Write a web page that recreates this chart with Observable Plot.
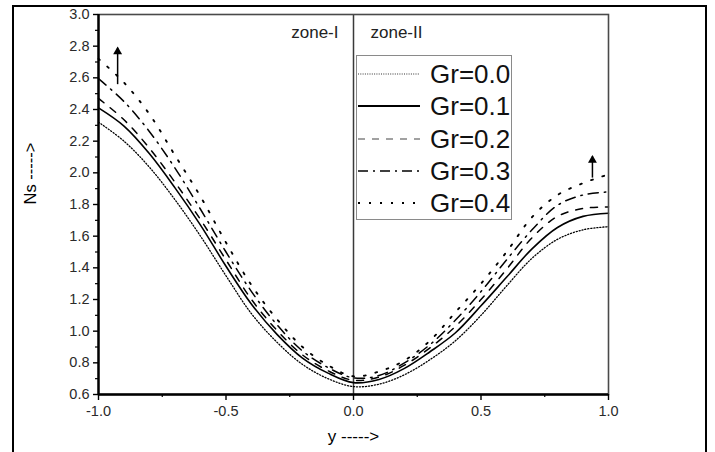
<!DOCTYPE html>
<html>
<head>
<meta charset="utf-8">
<script src="https://cdn.jsdelivr.net/npm/d3@7"></script>
<script src="https://cdn.jsdelivr.net/npm/@observablehq/plot@0.6"></script>
<style>
  html, body { margin: 0; padding: 0; overflow: hidden; background: #fff; }
  #wrap { position: relative; width: 715px; height: 452px; font-family: Arial, "Liberation Sans", sans-serif; }
  #border { position: absolute; left: 12px; top: 5px; width: 691px; height: 470px; border: 2.5px solid #000; pointer-events: none; }
  #legend { position: absolute; left: 356px; top: 55px; width: 156px; height: 165px; box-sizing: border-box;
            border: 1.2px solid #8a8a8a; background: #fff; }
  .row { position: absolute; left: 0; height: 30px; display: flex; align-items: center; }
  .row span { font-size: 26px; color: #111; margin-left: 9px; line-height: 30px; }
</style>
</head>
<body>
<div id="wrap">
  <div id="chart"></div>
  <div id="legend"></div>
  <div id="border"></div>
</div>
<script>
// ---- data ----
const yPos = [-1.0,-0.9,-0.8,-0.7,-0.6,-0.5,-0.4,-0.3,-0.2,-0.1,0.0,0.1,0.2,0.3,0.4,0.5,0.6,0.7,0.8,0.9,1.0];
const ns_gr00 = [2.32,2.20,2.035,1.83,1.60,1.35,1.11,0.93,0.79,0.70,0.65,0.665,0.725,0.82,0.94,1.10,1.285,1.46,1.58,1.64,1.66];
const ns_gr01 = [2.41,2.295,2.12,1.905,1.67,1.41,1.17,0.98,0.83,0.735,0.675,0.695,0.765,0.87,0.99,1.16,1.34,1.52,1.655,1.725,1.745];
const ns_gr02 = [2.47,2.335,2.155,1.94,1.705,1.45,1.20,1.005,0.85,0.75,0.69,0.71,0.785,0.895,1.03,1.20,1.39,1.59,1.725,1.775,1.785];
const ns_gr03 = [2.595,2.45,2.26,2.03,1.77,1.50,1.25,1.04,0.875,0.77,0.705,0.72,0.80,0.915,1.07,1.25,1.45,1.64,1.795,1.86,1.88];
const ns_gr04 = [2.72,2.57,2.37,2.11,1.85,1.56,1.29,1.075,0.90,0.785,0.715,0.745,0.815,0.94,1.12,1.30,1.50,1.72,1.86,1.935,1.99];
const seriesNames = ["Gr=0.0","Gr=0.1","Gr=0.2","Gr=0.3","Gr=0.4"];
const yMajorTicks = [0.6,0.8,1.0,1.2,1.4,1.6,1.8,2.0,2.2,2.4,2.6,2.8,3.0];
const yMinorTicks = [0.7,0.9,1.1,1.3,1.5,1.7,1.9,2.1,2.3,2.5,2.7,2.9];
const xMajorTicks = [-1.0,-0.5,0.0,0.5,1.0];
const xMinorTicks = [-0.75,-0.25,0.25,0.75];
const zoneLabels = ["zone-I","zone-II"];
// arrows indicating increasing Gr (data units)
const arrowX = [-0.925, 0.937];
const arrowFrom = [2.56, 1.97];
const arrowTo = [2.79, 2.105];

// ---- styles ----
const styles = [
  {dash: "1.1,1.9", width: 1.3},
  {dash: null, width: 1.6},
  {dash: "7,8", width: 1.5},
  {dash: "10,6,1.6,6", width: 1.5},
  {dash: "1.8,10", width: 1.9}
];
const legendStyles = [
  {dash: "1,1.3", width: 1.1, color: "#333"},
  {dash: null, width: 2, color: "#000"},
  {dash: "7,7", width: 1.1, color: "#444"},
  {dash: "10,5,2,5", width: 1.6, color: "#000"},
  {dash: "2,9", width: 2, color: "#000"}
];

const allSeries = [ns_gr00, ns_gr01, ns_gr02, ns_gr03, ns_gr04];
const rows = allSeries.map((vals, i) => yPos.map((y, j) => ({y, ns: vals[j], gr: seriesNames[i]})));
const arrows = arrowX.map((x, i) => ({x, y1: arrowFrom[i], y2: arrowTo[i]}));

const lineMarks = rows.map((data, i) => Plot.line(data, {
  x: "y", y: "ns", stroke: "#000", strokeWidth: styles[i].width,
  strokeDasharray: styles[i].dash, curve: "catmull-rom"
}));

const chart = Plot.plot({
  width: 715, height: 452,
  marginLeft: 98, marginRight: 107, marginTop: 14, marginBottom: 58,
  style: {fontFamily: "Arial, 'Liberation Sans', sans-serif", fontSize: "14.5px", background: "transparent"},
  x: {domain: [-1, 1]},
  y: {domain: [0.6, 3.0]},
  marks: [
    Plot.ruleX([0], {stroke: "#3a3a3a", strokeWidth: 1.5}),
    ...lineMarks,
    Plot.link(arrows, {x1: "x", x2: "x", y1: "y1", y2: "y2", stroke: "#000", strokeWidth: 1.5}),
    Plot.dot(arrows, {x: "x", y: "y2", symbol: "triangle", r: 3.3, fill: "#000", stroke: null, dy: 4}),
    Plot.frame({stroke: "#4a4a4a", strokeWidth: 1.6}),
    Plot.ruleX([-1], {stroke: "#000", strokeWidth: 2.4}),
    Plot.ruleY([0.6], {stroke: "#000", strokeWidth: 2.4}),
    Plot.axisY(yMajorTicks, {tickSize: 5, tickPadding: 4, tickFormat: d => d.toFixed(1), label: null, fill: "#2a2a2a", strokeWidth: 1.4}),
    Plot.axisY(yMinorTicks, {tickSize: 3, tickFormat: () => "", label: null, strokeWidth: 1.2}),
    Plot.axisX(xMajorTicks, {tickSize: 6, tickPadding: 5, tickFormat: d => d.toFixed(1), label: null, fill: "#2a2a2a", strokeWidth: 1.4}),
    Plot.axisX(xMinorTicks, {tickSize: 3, tickFormat: () => "", label: null, strokeWidth: 1.2}),
    Plot.text([zoneLabels[0]], {x: 0, y: 3.0, text: d => d, textAnchor: "end", dx: -15, dy: 18, fontSize: 17, fill: "#222"}),
    Plot.text([zoneLabels[1]], {x: 0, y: 3.0, text: d => d, textAnchor: "start", dx: 17, dy: 18, fontSize: 17, fill: "#222"}),
    Plot.text(["Ns ----->"], {frameAnchor: "left", rotate: -90, dx: -68, fontSize: 16.5, fill: "#000"}),
    Plot.text(["y ----->"], {frameAnchor: "bottom", dy: 47, fontSize: 17, fill: "#000"})
  ]
});
document.getElementById("chart").appendChild(chart);

// ---- legend ----
const legend = document.getElementById("legend");
seriesNames.forEach((name, i) => {
  const row = document.createElement("div");
  row.className = "row";
  row.style.top = (3 + i * 32.3) + "px";
  const ns = "http://www.w3.org/2000/svg";
  const svg = document.createElementNS(ns, "svg");
  svg.setAttribute("width", "63");
  svg.setAttribute("height", "10");
  svg.style.marginLeft = "1px";
  const ln = document.createElementNS(ns, "line");
  ln.setAttribute("x1", "0"); ln.setAttribute("x2", "62");
  ln.setAttribute("y1", "5"); ln.setAttribute("y2", "5");
  ln.setAttribute("stroke", legendStyles[i].color);
  ln.setAttribute("stroke-width", legendStyles[i].width);
  if (legendStyles[i].dash) ln.setAttribute("stroke-dasharray", legendStyles[i].dash);
  svg.appendChild(ln);
  const span = document.createElement("span");
  span.textContent = name;
  row.appendChild(svg);
  row.appendChild(span);
  legend.appendChild(row);
});
</script>
</body>
</html>
